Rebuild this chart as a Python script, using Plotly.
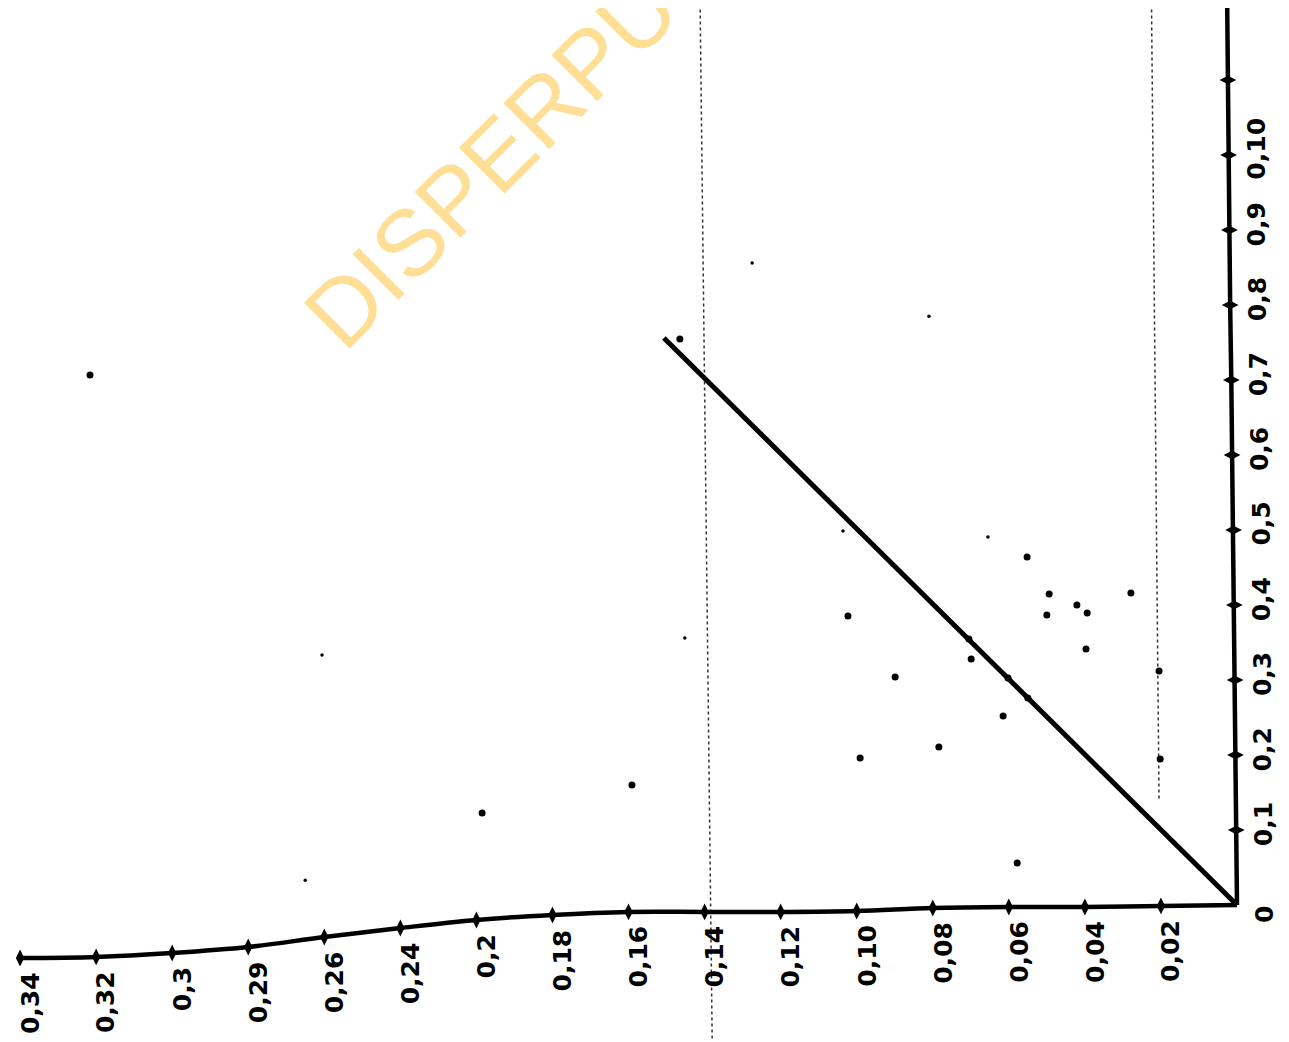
import plotly.graph_objects as go

# ---- data (A = horizontal quantity, increases to the left; B = vertical quantity) ----
# horizontal axis ticks and hand-written labels
a_ticks = [0.02, 0.04, 0.06, 0.08, 0.10, 0.12, 0.14, 0.16,
           0.18, 0.20, 0.22, 0.24, 0.26, 0.28, 0.30, 0.32]
a_tick_labels = ["0,02", "0,04", "0,06", "0,08", "0,10", "0,12", "0,14", "0,16",
                 "0,18", "0,2", "0,24", "0,26", "0,29", "0,3", "0,32", "0,34"]
# the drawn horizontal axis sags at its left end
a_axis_A = [0.0] + a_ticks
a_axis_B = [0.0, -0.0013, -0.0027, -0.0027, -0.004, -0.008, -0.0093, -0.0093,
            -0.0093, -0.0133, -0.02, -0.0307, -0.0427, -0.056, -0.064, -0.0693, -0.0707]

# vertical axis ticks and labels
b_ticks = [0.1, 0.2, 0.3, 0.4, 0.5, 0.6, 0.7, 0.8, 0.9, 1.0, 1.1]
b_tick_labels = ["0,1", "0,2", "0,3", "0,4", "0,5", "0,6", "0,7", "0,8", "0,9", "0,10", ""]
# vertical axis is slightly tilted
b_axis_B = [0.0, 0.1, 0.2, 0.3, 0.4, 0.5, 0.6, 0.7, 0.8, 0.9, 1.0, 1.1, 1.21]
b_axis_A = [0.0, 0.0002, 0.0004, 0.0005, 0.0007, 0.0009, 0.0013, 0.0015,
            0.0018, 0.0020, 0.0022, 0.0024, 0.0026]

# fitted straight line
line_A = [0.0, 0.1507]
line_B = [0.0, 0.756]

# measured points (large dots)
pts_A = [0.3016, 0.1985, 0.1591, 0.1465, 0.1023, 0.0991, 0.0899, 0.0784, 0.0699,
         0.0615, 0.0578, 0.0552, 0.0494, 0.0500, 0.0421, 0.0394, 0.0397, 0.0279,
         0.0205, 0.0202, 0.0705, 0.0602, 0.0550]
pts_B = [0.7067, 0.1227, 0.1600, 0.7547, 0.3853, 0.1960, 0.3040, 0.2107, 0.3280,
         0.2520, 0.0560, 0.4640, 0.4147, 0.3867, 0.4000, 0.3893, 0.3413, 0.4160,
         0.3120, 0.1947, 0.3547, 0.3027, 0.2760]

# small specks
small_A = [0.2406, 0.1452, 0.1275, 0.0655, 0.0810, 0.1036, 0.2450]
small_B = [0.3333, 0.3560, 0.8560, 0.4907, 0.7850, 0.4987, 0.0330]

# faint dotted scan guide lines
guide1_A = [0.1412, 0.1380]
guide1_B = [1.21, -0.18]
guide2_A = [0.0225, 0.0205]
guide2_B = [1.21, 0.14]

fig = go.Figure()

for gA, gB in [(guide1_A, guide1_B), (guide2_A, guide2_B)]:
    fig.add_trace(go.Scatter(x=gA, y=gB, mode="lines",
                             line=dict(color="#333333", width=1.5, dash="dot"),
                             hoverinfo="skip", showlegend=False))

# axes as drawn lines
fig.add_trace(go.Scatter(x=a_axis_A, y=a_axis_B, mode="lines",
                         line=dict(color="black", width=4.5, shape="spline"),
                         showlegend=False))
fig.add_trace(go.Scatter(x=b_axis_A, y=b_axis_B, mode="lines",
                         line=dict(color="black", width=4.5),
                         showlegend=False))
# tick marks
fig.add_trace(go.Scatter(x=a_axis_A[1:], y=a_axis_B[1:], mode="markers",
                         marker=dict(symbol="diamond-tall", size=12, color="black"),
                         showlegend=False))
fig.add_trace(go.Scatter(x=b_axis_A[1:12], y=b_ticks, mode="markers",
                         marker=dict(symbol="diamond-wide", size=12, color="black"),
                         showlegend=False))

# fitted line
fig.add_trace(go.Scatter(x=line_A, y=line_B, mode="lines",
                         line=dict(color="black", width=5), showlegend=False))

# points
fig.add_trace(go.Scatter(x=pts_A, y=pts_B, mode="markers",
                         marker=dict(size=7, color="black"), showlegend=False))
fig.add_trace(go.Scatter(x=small_A, y=small_B, mode="markers",
                         marker=dict(size=3.5, color="black"), showlegend=False))

label_font = dict(family="DejaVu Sans", size=25, color="black", weight="bold")

# horizontal axis labels (follow the sagging axis)
for a, b, t in zip(a_ticks, a_axis_B[1:], a_tick_labels):
    fig.add_annotation(x=a, y=b, xref="x", yref="y", text=t, textangle=-90,
                       showarrow=False, xanchor="center", yanchor="top",
                       xshift=10, yshift=-12, font=label_font)

# vertical axis labels
for a, b, t in zip(b_axis_A[1:12], b_ticks, b_tick_labels):
    if t:
        fig.add_annotation(x=a, y=b, xref="x", yref="y", text=t, textangle=-90,
                           showarrow=False, xanchor="center", yanchor="middle",
                           xshift=27, yshift=6, font=label_font)

# origin label
fig.add_annotation(x=0, y=0, xref="x", yref="y", text="0", textangle=-90,
                   showarrow=False, xanchor="center", yanchor="middle",
                   xshift=27, yshift=-10, font=label_font)

# watermark
fig.add_annotation(x=537 / 1281, y=1 - 100 / 1034, xref="paper", yref="paper",
                   text="DISPERPUSIP", textangle=-45, showarrow=False,
                   xanchor="center", yanchor="middle",
                   font=dict(family="Liberation Sans", size=94, color="#FFDE96"))

# page body adds an 8px offset, so the figure is 8px smaller and ranges are shifted
fig.update_layout(
    width=1281, height=1034,
    margin=dict(l=0, r=0, t=0, b=0),
    paper_bgcolor="white", plot_bgcolor="white",
    xaxis=dict(range=[0.32317, -0.013673], visible=False, showgrid=False, zeroline=False),
    yaxis=dict(range=[-0.18267, 1.196], visible=False, showgrid=False, zeroline=False),
    showlegend=False,
)

fig.write_html("out.html")
